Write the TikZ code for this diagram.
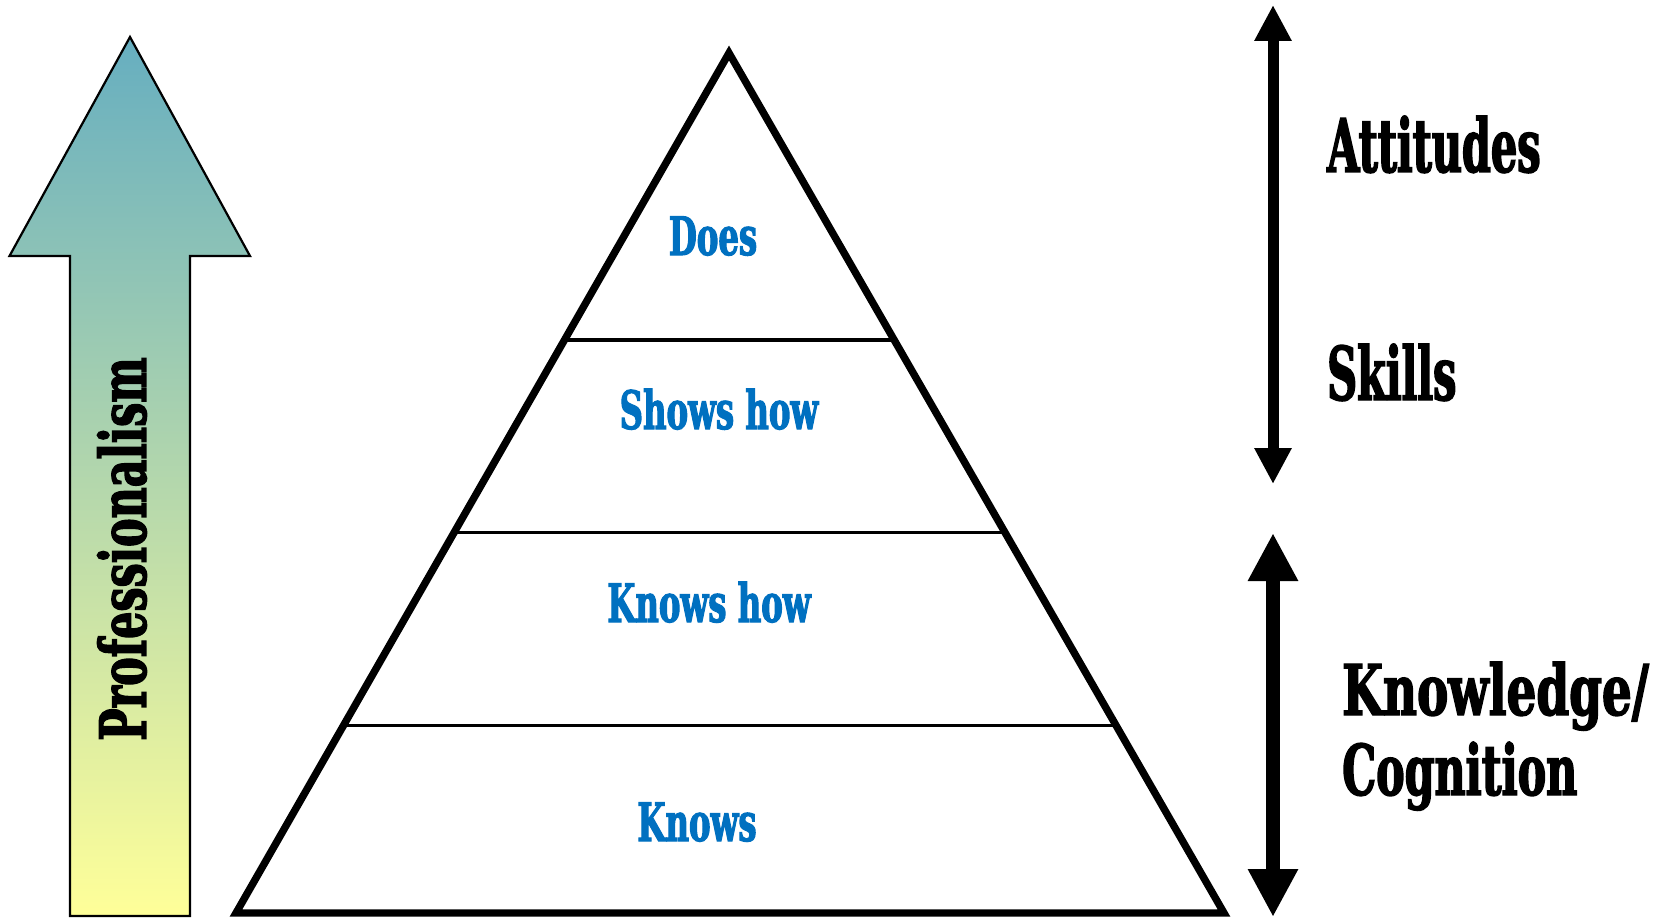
\documentclass[tikz,border=0pt]{standalone}
\usepackage{fontspec}
\usepackage{xcolor}
\usetikzlibrary{positioning,arrows.meta,calc}
\newfontfamily\slabfont[FakeStretch=0.56,FakeBold=2]{DejaVu Serif}
\newfontfamily\slabmid[FakeStretch=0.61,FakeBold=2]{DejaVu Serif}
\newfontfamily\slabwide[FakeStretch=0.67,FakeBold=2]{DejaVu Serif}
\definecolor{levelblue}{HTML}{0070C0}
\definecolor{arrowtop} {HTML}{66AEC0}
\definecolor{arrowbot} {HTML}{FFFF99}

\tikzset{
  level/.style={font=\slabmid\bfseries\fontsize{53}{60}\selectfont,
                text=levelblue,inner sep=0pt,anchor=base},
  rangetext/.style={font=\slabfont\bfseries\fontsize{74}{83}\selectfont,
                 inner sep=0pt,anchor=base west,align=left},
  spanline/.style={line width=#1},
}

\begin{document}
\begin{tikzpicture}[x=1pt,y=-1pt]
  \useasboundingbox (0,0) rectangle (1654,920);
  % rising arrow on the left
  \draw[line width=2.2pt,line join=miter,top color=arrowtop,bottom color=arrowbot]
    (130,37) -- (250,256) -- (190,256) -- (190,916) -- (70,916) -- (70,256)
    -- (9.5,256) -- cycle;
  \node[font=\slabwide\bfseries\fontsize{64}{70}\selectfont,inner sep=0pt,rotate=90]
    (prof) at (122,549) {Professionalism};
  % pyramid
  \coordinate (apex) at (729,53);
  \coordinate (baseL) at (236,913);
  \coordinate (baseR) at (1224,913);
  \foreach \t/\n in {0.3337/one,0.5578/two,0.7818/three}{
    \draw[line width=3.2pt] ($(apex)!\t!(baseL)$) coordinate (\n-left)
                         -- ($(apex)!\t!(baseR)$) coordinate (\n-right);}
  \draw[line width=7.4pt,line join=miter] (apex) -- (baseR) -- (baseL) -- cycle;
  \node[level] (does)  at (713,255) {Does};
  \node[level] (shows) at (719,429) {Shows how};
  \node[level] (khow)  at (709,622) {Knows how};
  \node[level] (knows) at (697,841) {Knows};
  % ranges on the right
  \coordinate (upA) at (1273,5);   \coordinate (upB) at (1273,484);
  \coordinate (loA) at (1273,533); \coordinate (loB) at (1273,917);
  \draw[spanline=11pt,{Triangle[width=35pt,length=36pt]}-{Triangle[width=35pt,length=36pt]}]
    (upA) -- (upB);
  \draw[spanline=14pt,{Triangle[width=47pt,length=48pt]}-{Triangle[width=47pt,length=48pt]}]
    (loA) -- (loB);
  \node[rangetext] (att)  at (1327,172) {Attitudes};
  \node[rangetext] (skl)  at (1327,400) {Skills};
  \node[rangetext,font=\slabwide\bfseries\fontsize{70}{80}\selectfont]
    (know) at (1342,795) {Knowledge/\\{\slabmid\bfseries Cognition}};
\end{tikzpicture}
\end{document}
